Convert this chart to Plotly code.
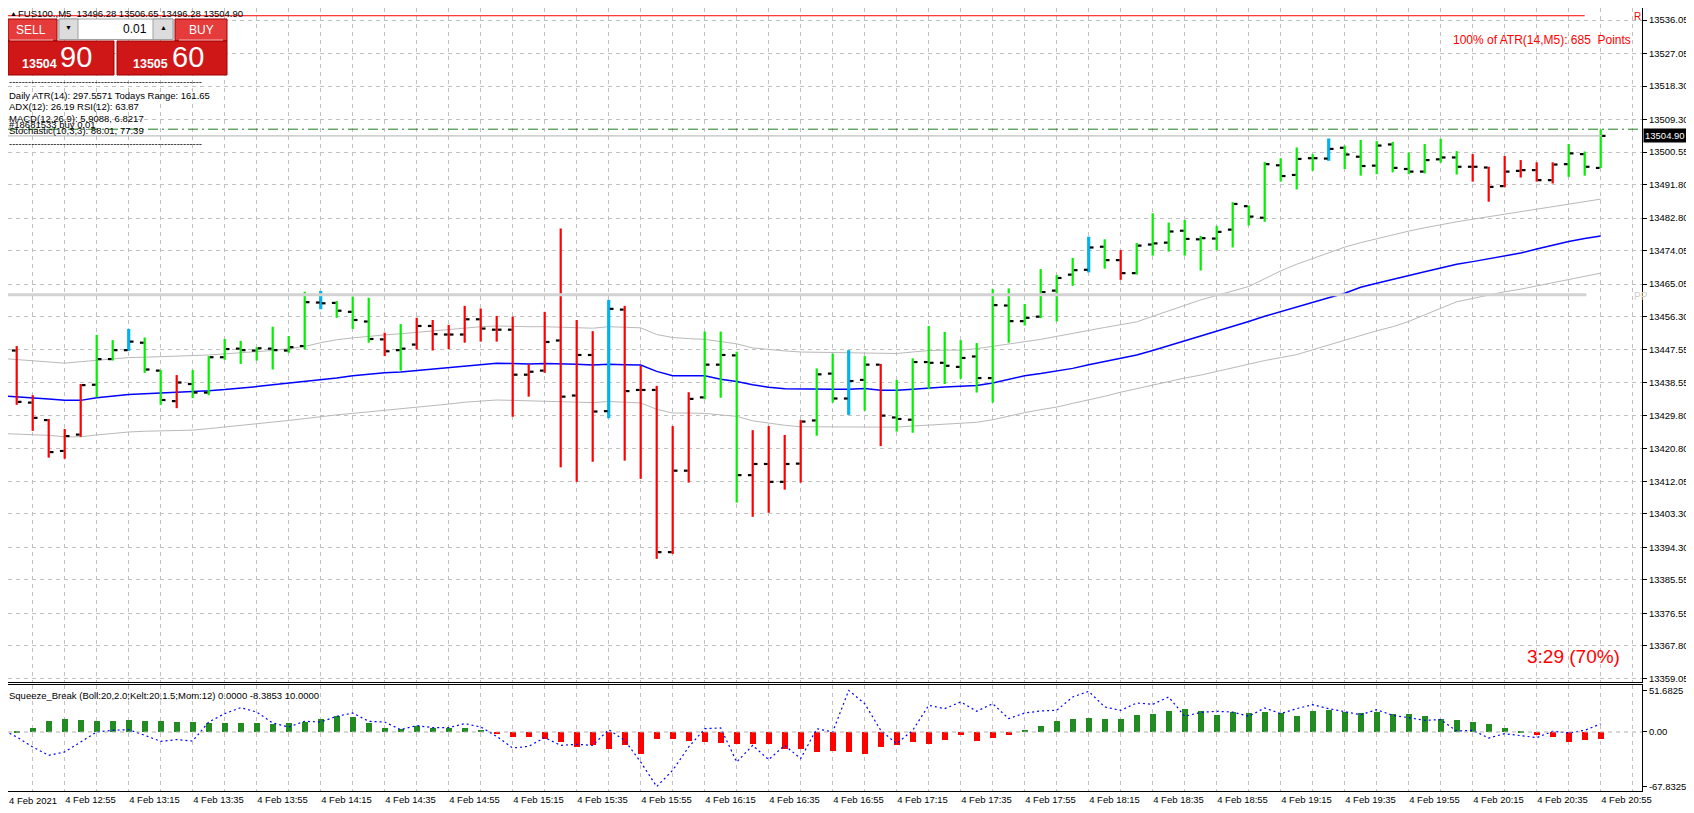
import plotly.graph_objects as go

# FUS100 M5 bars, 4 Feb 2021 12:35 .. 20:55 (bar index 0..100)
bar_index = list(range(101))

opens = [13446.0, 13447.2, 13433.2, 13428.5, 13420.2, 13424.6, 13438.0, 13444.9, 13447.3, 13449.3,
         13441.8, 13433.6, 13438.2, 13435.9, 13445.4, 13447.7, 13447.2, 13447.7, 13447.2, 13448.4,
         13460.1, 13460.0, 13457.6, 13455.0, 13450.2, 13447.3, 13448.8, 13453.8, 13451.5, 13451.5,
         13455.6, 13452.8, 13452.8, 13440.7, 13441.8, 13449.9, 13435.1, 13446.0, 13430.9, 13458.2,
         13436.6, 13436.6, 13393.0, 13414.9, 13434.6, 13443.4, 13445.9, 13413.7, 13416.7, 13411.9,
         13416.8, 13428.4, 13441.0, 13434.3, 13439.3, 13443.4, 13429.2, 13428.6, 13444.1, 13443.9,
         13442.8, 13445.6, 13439.8, 13459.3, 13455.1, 13456.3, 13463.3, 13467.6, 13468.9, 13475.1,
         13471.5, 13468.0, 13475.7, 13476.2, 13479.4, 13477.1, 13477.3, 13479.7, 13486.0, 13482.9,
         13497.0, 13494.4, 13498.9, 13498.8, 13501.7, 13499.3, 13496.9, 13502.6, 13496.0, 13495.3,
         13498.6, 13499.1, 13496.6, 13496.4, 13491.4, 13495.5, 13495.7, 13493.0, 13497.3, 13500.0,
         13496.28]
highs = [13450.0, 13448.4, 13435.2, 13428.8, 13426.1, 13438.2, 13451.4, 13450.0, 13453.0, 13450.7,
         13442.0, 13440.6, 13442.0, 13445.7, 13450.3, 13449.8, 13448.1, 13453.6, 13451.1, 13463.0,
         13463.2, 13460.5, 13461.7, 13461.4, 13452.0, 13454.3, 13456.0, 13455.4, 13454.1, 13459.2,
         13458.5, 13456.5, 13456.3, 13443.5, 13457.6, 13480.0, 13455.4, 13452.4, 13460.8, 13459.2,
         13443.1, 13437.7, 13426.9, 13436.0, 13452.3, 13452.3, 13446.9, 13425.8, 13426.9, 13424.5,
         13428.5, 13442.4, 13446.4, 13447.3, 13445.7, 13443.6, 13439.3, 13445.1, 13453.8, 13452.2,
         13450.0, 13449.2, 13463.7, 13463.9, 13459.7, 13469.1, 13467.5, 13472.1, 13477.8, 13477.1,
         13474.2, 13476.1, 13484.1, 13481.6, 13482.3, 13478.0, 13480.7, 13487.1, 13486.2, 13497.9,
         13498.9, 13501.8, 13500.0, 13504.2, 13502.3, 13503.8, 13503.5, 13503.3, 13500.4, 13502.7,
         13504.1, 13500.8, 13500.0, 13496.6, 13499.5, 13498.4, 13497.8, 13497.8, 13502.7, 13500.7,
         13506.65]
lows = [13444.9, 13432.6, 13425.6, 13418.4, 13418.1, 13424.0, 13434.6, 13444.5, 13447.1, 13441.2,
        13432.6, 13431.7, 13434.4, 13435.2, 13444.7, 13443.6, 13444.5, 13442.1, 13446.6, 13447.5,
        13458.3, 13456.0, 13453.0, 13449.3, 13445.7, 13441.8, 13447.5, 13447.2, 13447.6, 13449.3,
        13449.6, 13449.6, 13429.4, 13434.8, 13441.2, 13415.8, 13411.9, 13417.3, 13429.0, 13417.6,
        13412.7, 13391.2, 13392.5, 13411.7, 13434.1, 13434.5, 13406.3, 13402.5, 13403.6, 13409.8,
        13411.7, 13424.3, 13433.2, 13429.9, 13431.0, 13421.5, 13425.4, 13425.1, 13436.8, 13438.2,
        13439.6, 13435.9, 13433.2, 13449.3, 13453.9, 13455.9, 13455.0, 13464.6, 13468.2, 13469.2,
        13466.2, 13467.6, 13472.7, 13473.8, 13472.7, 13468.7, 13474.2, 13474.9, 13480.8, 13481.8,
        13492.6, 13490.5, 13495.5, 13498.2, 13496.0, 13494.2, 13494.6, 13495.1, 13494.6, 13494.8,
        13497.7, 13494.5, 13492.6, 13487.2, 13491.1, 13493.7, 13492.6, 13492.1, 13493.9, 13494.2,
        13496.28]
closes = [13447.3, 13433.4, 13429.1, 13419.9, 13424.2, 13437.9, 13444.9, 13447.3, 13449.6, 13442.1,
          13433.9, 13438.6, 13435.9, 13445.4, 13447.6, 13447.3, 13447.8, 13447.3, 13448.1, 13460.2,
          13459.9, 13457.9, 13455.4, 13450.3, 13447.0, 13447.7, 13453.8, 13451.6, 13451.5, 13455.6,
          13453.1, 13452.8, 13440.7, 13441.5, 13449.5, 13434.8, 13446.0, 13430.8, 13458.4, 13436.3,
          13436.6, 13393.0, 13414.9, 13434.2, 13443.4, 13446.0, 13413.7, 13416.7, 13411.9, 13416.7,
          13428.1, 13440.8, 13434.3, 13439.0, 13443.4, 13429.7, 13428.8, 13444.1, 13443.9, 13443.1,
          13445.2, 13439.8, 13459.4, 13455.1, 13456.0, 13462.9, 13466.7, 13468.8, 13474.9, 13471.5,
          13468.0, 13475.4, 13476.0, 13479.2, 13477.2, 13477.4, 13479.1, 13486.6, 13483.2, 13497.3,
          13494.1, 13498.7, 13498.9, 13501.4, 13499.9, 13496.8, 13502.3, 13496.3, 13495.3, 13498.4,
          13499.1, 13496.6, 13496.6, 13491.2, 13495.3, 13495.7, 13493.0, 13497.2, 13500.2, 13496.6,
          13504.90]
# g = lime, r = red, b = blue painted bar
bar_colors = list("grrrrrggbggrggggggggbgggrgrrrrrrrrrrrrbrrrrrgggrrrrggbgrggggggggggggbgrggggggggggggbggggggggrrrrrrggg")

mid_band = [13435.0, 13434.8, 13434.6, 13434.2, 13433.8, 13433.8, 13434.5, 13435.0, 13435.4, 13435.6,
            13435.8, 13435.9, 13436.0, 13436.4, 13436.7, 13437.0, 13437.5, 13438.0, 13438.4, 13438.9,
            13439.4, 13439.8, 13440.4, 13440.9, 13441.2, 13441.4, 13441.8, 13442.2, 13442.7, 13443.1,
            13443.5, 13443.75, 13443.7, 13443.6, 13443.7, 13443.7, 13443.5, 13443.3, 13443.5, 13443.4,
            13443.3, 13441.6, 13440.4, 13440.4, 13440.4, 13439.5, 13438.9, 13438.0, 13437.3, 13436.9,
            13436.8, 13436.8, 13436.8, 13436.8, 13437.0, 13436.5, 13436.5, 13436.8, 13437.0, 13437.4,
            13437.6, 13437.8, 13438.5, 13439.5, 13440.4, 13441.0, 13441.6, 13442.4, 13443.4, 13444.2,
            13445.0, 13446.0, 13447.2, 13448.5, 13449.7, 13450.9, 13452.2, 13453.6, 13455.0, 13456.4,
            13457.7, 13459.0, 13460.2, 13461.4, 13462.6, 13464.2, 13465.3, 13466.4, 13467.4, 13468.4,
            13469.4, 13470.4, 13471.1, 13471.9, 13472.6, 13473.4, 13474.5, 13475.6, 13476.5, 13477.3,
            13478.0]
upper_band = [13445.1, 13444.8, 13444.4, 13444.1, 13443.8, 13444.2, 13444.6, 13445.0, 13445.3, 13445.4,
              13445.5, 13445.6, 13445.7, 13446.0, 13446.3, 13446.6, 13446.9, 13447.2, 13447.7, 13448.3,
              13449.3, 13450.1, 13450.6, 13451.1, 13451.4, 13451.7, 13452.1, 13452.5, 13452.9, 13453.2,
              13453.6, 13453.8, 13453.6, 13453.6, 13453.6, 13453.5, 13453.3, 13453.2, 13453.6, 13453.4,
              13453.3, 13451.5, 13450.7, 13450.4, 13450.2, 13449.6, 13449.0, 13447.9, 13447.4, 13447.1,
              13446.8, 13446.7, 13446.6, 13446.6, 13446.5, 13446.5, 13446.4, 13446.8, 13447.2, 13447.3,
              13447.3, 13447.7, 13448.3, 13448.9, 13449.6, 13450.2, 13451.0, 13451.7, 13452.6, 13453.4,
              13454.1, 13454.9, 13456.4, 13457.9, 13459.3, 13460.8, 13462.0, 13463.2, 13464.4, 13466.5,
              13468.6, 13470.4, 13472.0, 13473.5, 13475.0, 13476.2, 13477.3, 13478.4, 13479.3, 13480.2,
              13481.1, 13481.8, 13482.5, 13483.2, 13483.8, 13484.4, 13485.1, 13485.8, 13486.5, 13487.2,
              13487.9]
lower_band = [13424.9, 13424.8, 13424.7, 13424.4, 13424.0, 13424.0, 13424.5, 13425.0, 13425.3, 13425.5,
              13425.6, 13425.7, 13425.8, 13426.2, 13426.6, 13427.0, 13427.5, 13427.9, 13428.4, 13428.9,
              13429.5, 13429.9, 13430.3, 13430.7, 13431.1, 13431.4, 13431.9, 13432.4, 13432.8, 13433.3,
              13433.7, 13433.9, 13433.8, 13433.7, 13433.7, 13433.6, 13433.3, 13433.2, 13433.5, 13433.3,
              13433.1, 13431.4, 13430.4, 13430.4, 13430.3, 13429.9, 13429.5, 13428.3, 13427.6, 13427.1,
              13426.7, 13426.7, 13426.7, 13426.7, 13426.7, 13426.6, 13426.6, 13426.9, 13427.1, 13427.4,
              13427.6, 13427.9, 13428.6, 13429.6, 13430.5, 13431.3, 13432.0, 13433.0, 13433.9, 13434.9,
              13436.0, 13437.0, 13438.0, 13439.0, 13439.8, 13440.6, 13441.6, 13442.6, 13443.6, 13444.5,
              13445.3, 13446.1, 13447.4, 13448.7, 13450.0, 13451.3, 13452.5, 13453.6, 13455.0, 13456.8,
              13458.6, 13460.3, 13461.2, 13462.2, 13463.0, 13463.7, 13464.6, 13465.5, 13466.4, 13467.2,
              13468.0]

# Squeeze_Break histogram + momentum (dotted)
squeeze_hist = [1.0, 2.0, 5.8, 14.5, 17.0, 15.7, 14.5, 14.5, 15.7, 14.5,
                14.5, 13.3, 13.3, 12.0, 12.0, 12.0, 12.0, 10.8, 12.0, 13.3,
                17.0, 20.7, 19.5, 12.0, 5.8, 4.1, 7.9, 5.8, 5.8, 5.8,
                2.5, -1.7, -6.2, -5.0, -7.5, -11.6, -17.8, -15.7, -19.9, -16.1,
                -26.9, -7.5, -7.5, -10.4, -11.6, -12.8, -13.7, -14.5, -14.5, -19.9,
                -20.7, -24.8, -22.8, -24.4, -26.1, -18.6, -15.7, -12.4, -13.7, -8.7,
                -3.7, -10.4, -7.0, -2.5, 3.3, 8.3, 14.5, 17.0, 18.2, 17.0,
                17.0, 21.9, 23.2, 26.9, 29.4, 26.9, 21.9, 25.7, 24.4, 25.7,
                24.4, 20.7, 26.9, 28.2, 25.7, 24.4, 25.7, 23.2, 23.2, 20.7,
                17.0, 15.7, 13.3, 10.8, 5.8, 2.1, -3.7, -5.0, -11.6, -9.9,
                -8.3853]
squeeze_mom = [4.1, -6.2, -18.6, -29.0, -24.8, -12.4, 0.0, 2.1, 2.9, -4.1,
               -11.6, -9.5, -11.2, 12.4, 22.8, 30.2, 24.8, 11.2, 6.2, 13.3,
               12.4, 19.5, 23.6, 13.3, 12.4, 2.9, 7.9, 5.4, 5.4, 10.4,
               6.2, -5.4, -19.9, -17.8, -7.0, -16.6, -15.3, -16.6, 2.9, -10.4,
               -37.3, -67.8, -47.6, -18.6, 4.1, 5.0, -37.3, -16.6, -34.4, -16.6,
               -33.1, 4.1, 0.0, 51.68, 35.2, 2.1, -14.5, 2.1, 33.1, 29.0,
               37.3, 25.7, 35.2, 16.6, 23.6, 26.1, 26.9, 43.5, 50.5, 31.1,
               26.9, 36.0, 34.4, 43.5, 19.5, 24.4, 25.7, 24.8, 19.5, 29.8,
               22.8, 29.0, 34.0, 29.0, 25.7, 21.5, 27.7, 20.7, 17.8, 14.5,
               15.3, 1.2, 2.1, -7.5, -2.1, -5.0, -7.0, 0.8, -1.2, 2.1,
               10.0]

x_tick_labels = ["4 Feb 2021", "4 Feb 12:55", "4 Feb 13:15", "4 Feb 13:35", "4 Feb 13:55",
                 "4 Feb 14:15", "4 Feb 14:35", "4 Feb 14:55", "4 Feb 15:15", "4 Feb 15:35",
                 "4 Feb 15:55", "4 Feb 16:15", "4 Feb 16:35", "4 Feb 16:55", "4 Feb 17:15",
                 "4 Feb 17:35", "4 Feb 17:55", "4 Feb 18:15", "4 Feb 18:35", "4 Feb 18:55",
                 "4 Feb 19:15", "4 Feb 19:35", "4 Feb 19:55", "4 Feb 20:15", "4 Feb 20:35",
                 "4 Feb 20:55"]
price_ticks = [13536.05, 13527.05, 13518.30, 13509.30, 13500.55, 13491.80, 13482.80, 13474.05,
               13465.05, 13456.30, 13447.55, 13438.55, 13429.80, 13420.80, 13412.05, 13403.30,
               13394.30, 13385.55, 13376.55, 13367.80, 13359.05]
squeeze_ticks = [51.6825, 0.0, -67.8325]

r_level = 13537.2
pp_level = 13462.2
order_price = 13506.7
bid_price = 13504.90

FONT = "Liberation Sans"
GRID = "#c0c0c0"
# the page body adds an 8px margin, so the figure is drawn 8px in from the window edge
OFF = 8
W, H = 1642 - OFF, 791 - OFF  # plot area size


def px(x):
    return (max(x, OFF) - OFF) / W


def py(y):
    return 1 - (y - OFF) / H


fig = go.Figure()

# bands under the bars
fig.add_trace(go.Scatter(x=bar_index, y=upper_band, mode="lines", line=dict(color="#b9b9b9", width=1)))
fig.add_trace(go.Scatter(x=bar_index, y=lower_band, mode="lines", line=dict(color="#b9b9b9", width=1)))
fig.add_trace(go.Scatter(x=bar_index, y=mid_band, mode="lines", line=dict(color="#0000ff", width=1.5)))

# high-low lines, split by paint colour
paint = {"g": ("#00f000", 2.2), "r": ("#ff0000", 2.2), "b": ("#00b4f0", 3.2)}
for code, (col, wid) in paint.items():
    xs, ys = [], []
    for i in bar_index:
        if bar_colors[i] == code:
            xs += [i, i, None]
            ys += [lows[i], highs[i], None]
    fig.add_trace(go.Scatter(x=xs, y=ys, mode="lines", line=dict(color=col, width=wid)))

# open / close ticks
tx, ty = [], []
for i in bar_index:
    tx += [i - 0.3, i - 0.07, None, i + 0.07, i + 0.3, None]
    ty += [opens[i], opens[i], None, closes[i], closes[i], None]
fig.add_trace(go.Scatter(x=tx, y=ty, mode="lines", line=dict(color="black", width=2.2)))

# sub window
hist_cols = ["#228b22" if v >= 0 else "#ff0000" for v in squeeze_hist]
fig.add_trace(go.Bar(x=bar_index, y=squeeze_hist, marker=dict(color=hist_cols, line=dict(width=0)),
                     width=0.36, xaxis="x2", yaxis="y2"))
fig.add_trace(go.Scatter(x=bar_index, y=squeeze_mom, mode="lines", xaxis="x2", yaxis="y2",
                         line=dict(color="#0000ff", width=1.2, dash="2px,3px")))

grid_vals = list(range(0, 103, 2))
grid_text = [x_tick_labels[v // 4] if v % 4 == 0 and v // 4 < len(x_tick_labels) else "" for v in grid_vals]
x_range = [(OFF - 0.7) / 16, (1642 - 0.7) / 16]

fig.update_layout(
    width=1694 - OFF, height=813 - OFF,
    margin=dict(l=0, r=52, t=0, b=22),
    paper_bgcolor="white", plot_bgcolor="white",
    showlegend=False, hovermode=False, bargap=0,
    font=dict(family=FONT, size=9.5, color="black"),
    xaxis=dict(domain=[0, 1], anchor="y", range=x_range, tickmode="array", tickvals=grid_vals,
               showticklabels=False, ticks="", showgrid=True, gridcolor=GRID, griddash="4px,4px",
               zeroline=False, showline=True, mirror=True, linecolor="black", linewidth=1),
    yaxis=dict(domain=[(791 - 682) / H, 1], anchor="x", side="right", range=[13358.09, 13539.28],
               tickmode="array", tickvals=price_ticks, ticktext=["%.2f" % v for v in price_ticks],
               ticks="outside", ticklen=4, tickcolor="black", showgrid=True, gridcolor=GRID,
               griddash="4px,4px", zeroline=False, showline=True, mirror=True, linecolor="black"),
    xaxis2=dict(domain=[0, 1], anchor="y2", matches="x", range=x_range, tickmode="array",
                tickvals=grid_vals, ticktext=grid_text, ticklabelposition="outside right",
                ticks="", showgrid=True, gridcolor=GRID, griddash="4px,4px", zeroline=False,
                showline=True, mirror=True, linecolor="black", linewidth=1),
    yaxis2=dict(domain=[0, (791 - 684.5) / H], anchor="x2", side="right", range=[-73.3, 59.0],
                tickmode="array", tickvals=squeeze_ticks, ticktext=["51.6825", "0.00", "-67.8325"],
                ticks="outside", ticklen=4, tickcolor="black", showgrid=False, zeroline=False,
                showline=True, mirror=True, linecolor="black"),
)

shapes = [
    dict(type="line", xref="x", yref="y", x0=x_range[0], x1=99.0, y0=r_level, y1=r_level,
         line=dict(color="#ff0000", width=1)),
    dict(type="line", xref="x", yref="y", x0=x_range[0], x1=99.1, y0=pp_level, y1=pp_level,
         line=dict(color="#d3d3d3", width=3)),
    dict(type="line", xref="x", yref="y", x0=x_range[0], x1=100.1, y0=bid_price, y1=bid_price,
         line=dict(color="#c0c0c0", width=1.2)),
    dict(type="line", xref="paper", yref="y", x0=0, x1=1, y0=order_price, y1=order_price,
         line=dict(color="#1e7d1e", width=1, dash="10px,4px,2px,4px")),
    dict(type="line", xref="paper", yref="y2", x0=0, x1=1, y0=0, y1=0,
         line=dict(color="#b0b0b0", width=1, dash="4px,4px")),
]


# one-click trading panel
def box(x0, y0, x1, y1, fill, border, lw=1):
    return dict(type="rect", xref="paper", yref="paper", x0=px(x0), x1=px(x1), y0=py(y1), y1=py(y0),
                fillcolor=fill, line=dict(color=border, width=lw), layer="above")


shapes += [
    box(4, 19, 57, 41, "#e53b3b", "#9e0000"),
    box(175, 19, 227, 41, "#e53b3b", "#9e0000"),
    box(4, 41, 114, 75, "#cf1717", "#9e0000"),
    box(117, 41, 227, 75, "#cf1717", "#9e0000"),
    box(59, 19, 173, 39.5, "#ffffff", "#a0a0a0"),
    box(59, 19, 78, 39.5, "#dcdcdc", "#a0a0a0"),
    box(153, 19, 173, 39.5, "#dcdcdc", "#a0a0a0"),
    dict(type="line", xref="paper", yref="paper", x0=px(10), x1=px(53), y0=py(40), y1=py(40),
         line=dict(color="#f5b5b5", width=1), layer="above"),
    dict(type="line", xref="paper", yref="paper", x0=px(179), x1=px(223), y0=py(40), y1=py(40),
         line=dict(color="#f5b5b5", width=1), layer="above"),
]
fig.update_layout(shapes=shapes)


def label(x, y, text, size=9.5, color="black", anchor="left", bold=False, **kw):
    if bold:
        text = "<b>" + text + "</b>"
    fig.add_annotation(xref="paper", yref="paper", x=px(x), y=py(y), text=text, showarrow=False,
                       xanchor=anchor, yanchor="middle", font=dict(family=FONT, size=size, color=color),
                       borderpad=0, **kw)


label(9, 13, "▲", size=7)
label(17, 13, "FUS100.,M5  13496.28 13506.65 13496.28 13504.90")
label(31, 30, "SELL", size=12, color="white", anchor="center")
label(201, 30, "BUY", size=12, color="white", anchor="center")
label(148, 29, "0.01", size=12, anchor="right")
label(68.5, 28, "▼", size=7, anchor="center")
label(163, 28, "▲", size=7, anchor="center")
label(40, 64, "13504", size=12.5, color="white", anchor="center", bold=True)
label(76, 57, "90", size=29, color="white", anchor="center")
label(150, 64, "13505", size=12.5, color="white", anchor="center", bold=True)
label(188, 57, "60", size=29, color="white", anchor="center")
label(8, 82, "-" * 61, size=9.5)
label(8, 95, "Daily ATR(14): 297.5571 Todays Range: 161.65")
label(8, 107, "ADX(12): 26.19 RSI(12): 63.87")
label(8, 118, "MACD(12,26,9): 5.9088, 6.8217")
label(8, 124, "#18681533 buy 0.01")
label(8, 130, "Stochastic(10,3,3): 88.01, 77.39")
label(8, 143, "-" * 61, size=9.5)
label(1632, 40, "100% of ATR(14,M5): 685  Points", size=12, color="#ff0000", anchor="right")
label(1621, 656, "3:29 (70%)", size=19, color="#ff0000", anchor="right")
label(1633, 17, "R", size=10, color="#ff0000")
label(1633, 296, "PP", size=10, color="#cfcfcf")
label(8, 695, "Squeeze_Break (Boll:20,2.0;Kelt:20,1.5;Mom:12) 0.0000 -8.3853 10.0000", size=9.5)
label(8, 800, x_tick_labels[0], size=9.5)

fig.add_annotation(xref="paper", yref="y", x=1.0, y=bid_price, text="13504.90", showarrow=False,
                   xanchor="left", yanchor="middle", xshift=1, bgcolor="black", borderpad=1,
                   font=dict(family=FONT, size=9.5, color="white"))

fig.write_html("out.html")
